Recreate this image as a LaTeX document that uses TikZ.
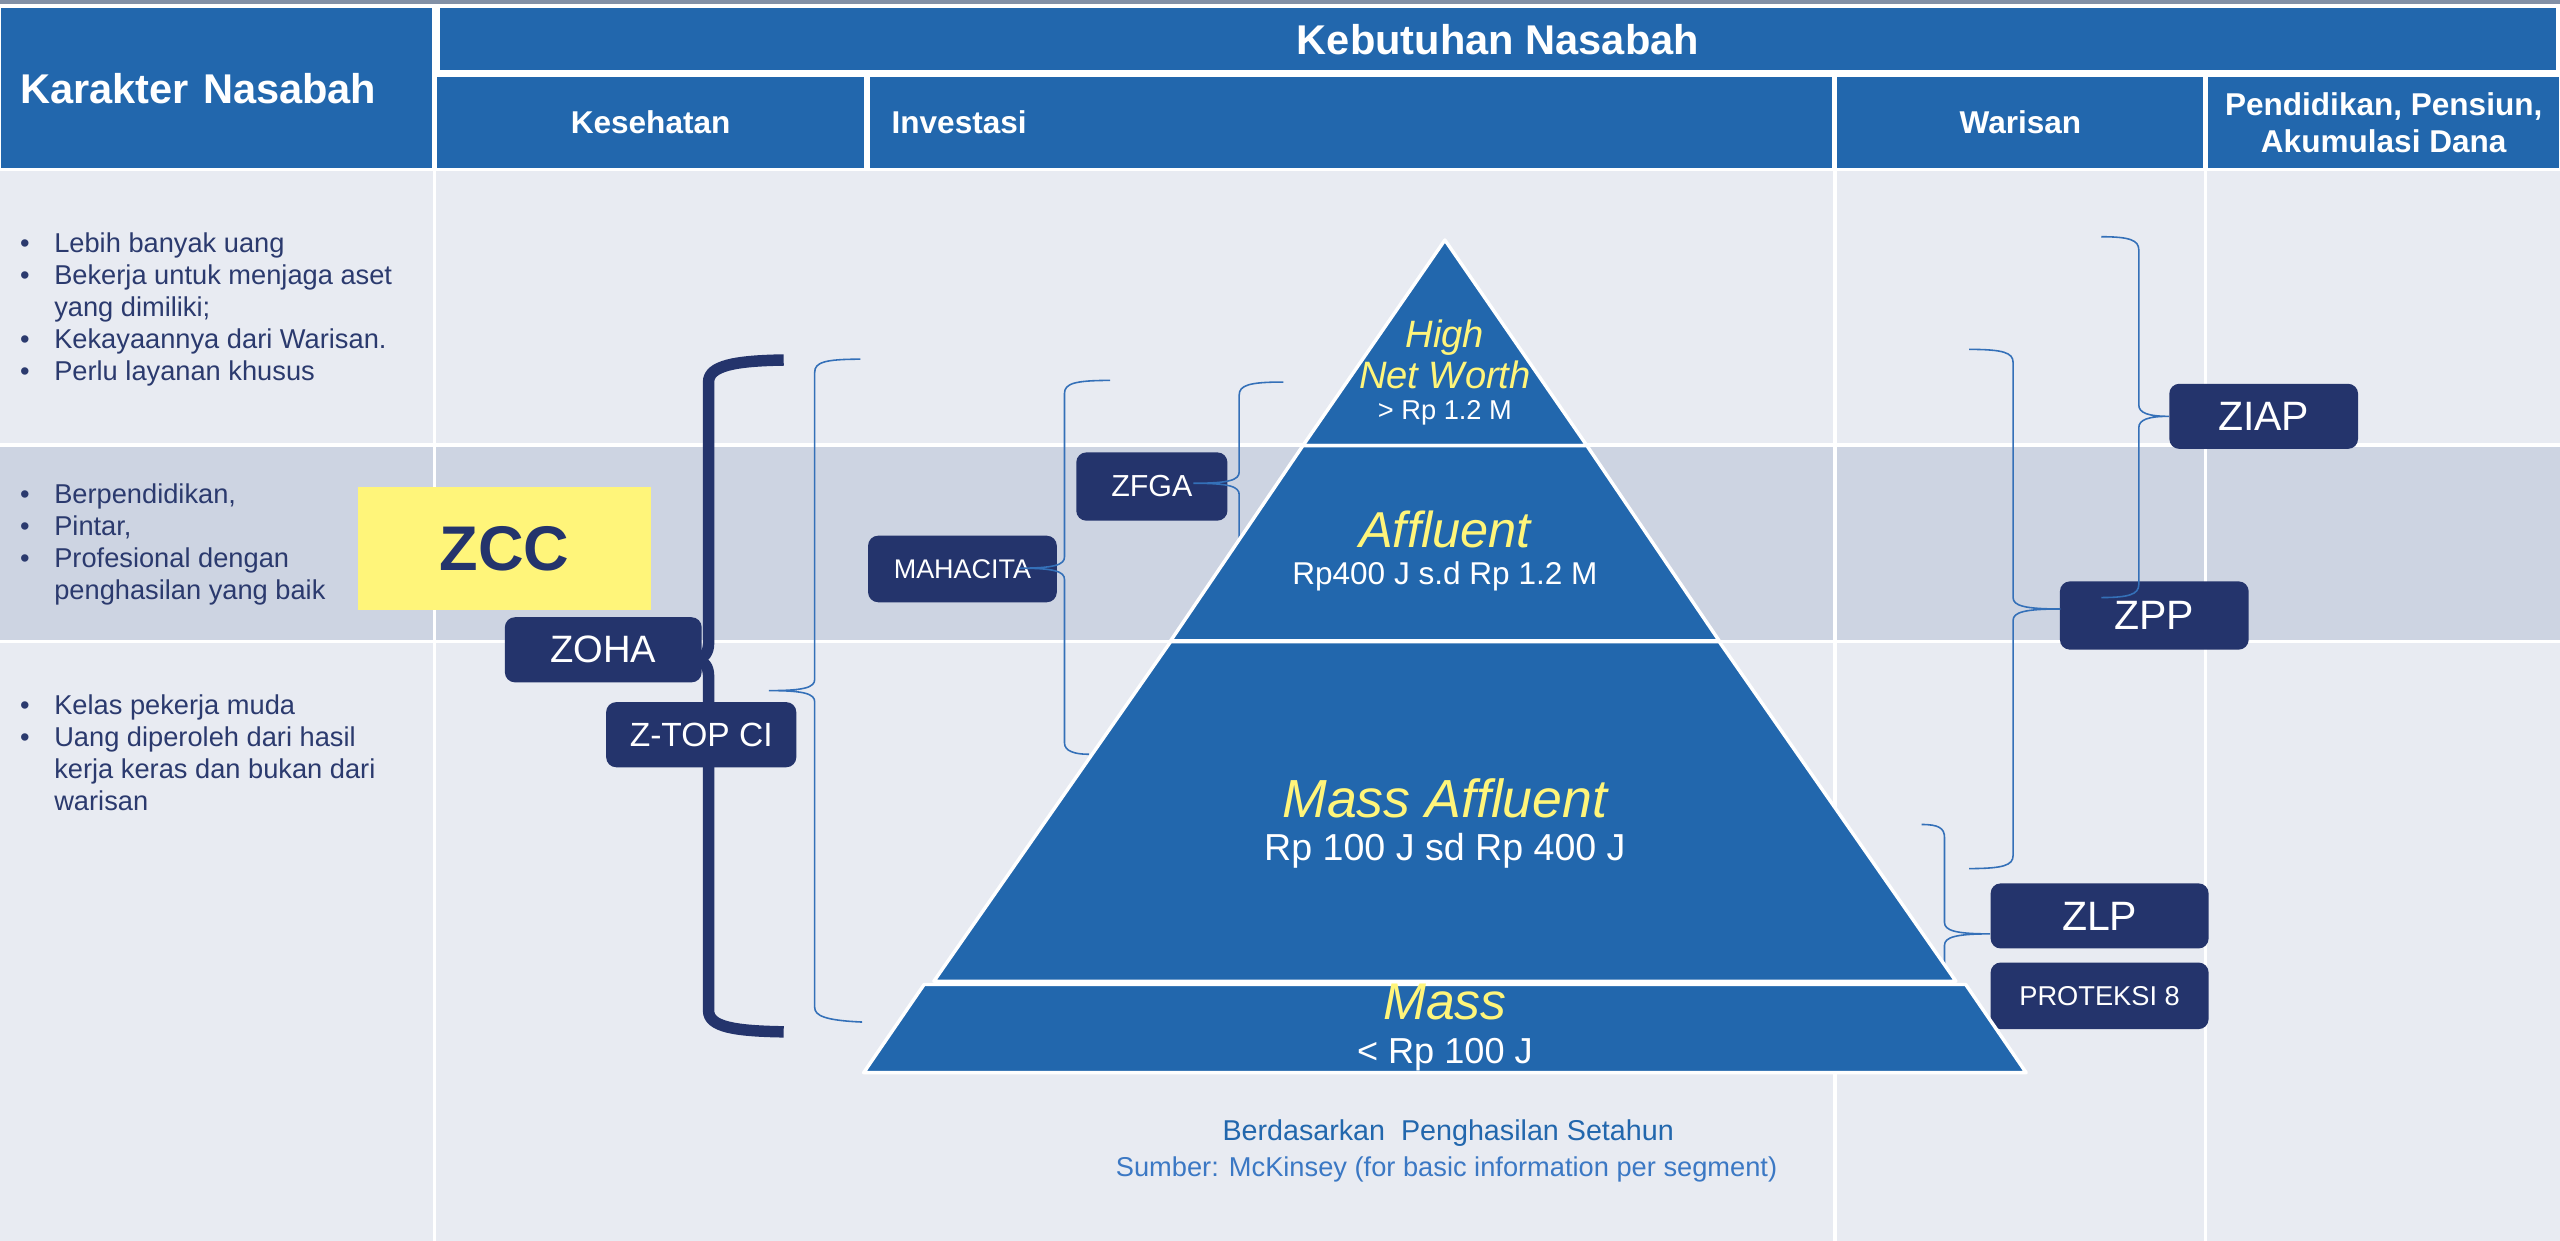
\documentclass[tikz,border=0pt]{standalone}
\usepackage{fontspec}
\setmainfont{Liberation Sans}
\usepackage{tikz}
\usetikzlibrary{positioning}

\definecolor{hdrblue}{HTML}{2267AD}
\definecolor{navy}{HTML}{24346C}
\definecolor{paleblue}{HTML}{E8EBF2}
\definecolor{midblue}{HTML}{CDD4E2}
\definecolor{hiyellow}{HTML}{FFF57A}
\definecolor{inktext}{HTML}{2B3A6E}
\definecolor{linkblue}{HTML}{3470B8}
\definecolor{noteblue}{HTML}{3B78C4}
\definecolor{topgray}{HTML}{8290A6}

\begin{document}
\begin{tikzpicture}[x=0.02cm, y=-0.02cm,
		hdr/.style={fill=hdrblue, text=white, inner sep=0pt, font=\fontsize{11}{13}\selectfont\bfseries},
		prod/.style={fill=navy, text=white, rounded corners=3.5pt, inner sep=0pt, minimum height=22.7pt, font=\fontsize{14.3}{16}\selectfont},
		ciri/.style={anchor=west, inner sep=0pt, text=inktext, font=\fontsize{9.5}{11.2}\selectfont},
		band/.style={fill=hdrblue, draw=white, line width=1.2pt, line join=round},
		seg/.style={text=hiyellow, inner sep=0pt, font=\fontsize{18}{20}\selectfont\itshape},
		rng/.style={text=white, inner sep=0pt, font=\fontsize{11}{13}\selectfont},
		thinbrace/.style={draw=linkblue, line width=0.55pt},
		bigbrace/.style={draw=navy, line width=4pt, line join=round}
	]
	\useasboundingbox (0,0) rectangle (1568,760);
	\fill[white] (0,0) rectangle (1568,760);
	\fill[topgray] (0,0) rectangle (1568,2.5);

	% header
	\node[hdr, minimum width=150.2pt, minimum height=55.6pt, text width=136.6pt, align=left,
		font=\fontsize{14.5}{17}\selectfont\bfseries] (karakter) at (132.5,54) {Karakter Nasabah};
	\node[hdr, minimum width=737.6pt, minimum height=21.5pt,
		font=\fontsize{14.5}{17}\selectfont\bfseries] (kebutuhan) at (917.5,24) {Kebutuhan Nasabah};
	\node[hdr, minimum width=149.1pt, minimum height=31.7pt] (kesehatan) at (398.5,75) {Kesehatan};
	\node[hdr, minimum width=335.1pt, minimum height=31.7pt, text width=320.3pt, align=left] (investasi) at (827.5,75) {Investasi};
	\node[hdr, minimum width=127.6pt, minimum height=31.7pt] (warisan) at (1237.5,75) {Warisan};
	\node[hdr, minimum width=122.5pt, minimum height=31.7pt, align=center] (pendidikan) at (1460,75) {Pendidikan, Pensiun,\\Akumulasi Dana};

	% body rows
	\fill[paleblue] (0,104.5) rectangle (1568,271.5);
	\fill[midblue] (0,273.5) rectangle (1568,392);
	\fill[paleblue] (0,394) rectangle (1568,760);
	\foreach \cx in {266,1124,1351}
	\draw[white, line width=1.2pt] (\cx,104) -- (\cx,760);

	\node[ciri] (ciri1) at (12,190) {\begin{tabular}{@{}p{11.9pt}@{}l@{}}
			\textbullet & Lebih banyak uang\\
			\textbullet & Bekerja untuk menjaga aset\\
			& yang dimiliki;\\
			\textbullet & Kekayaannya dari Warisan.\\
			\textbullet & Perlu layanan khusus
	\end{tabular}};
	\node[ciri] (ciri2) at (12,334) {\begin{tabular}{@{}p{11.9pt}@{}l@{}}
			\textbullet & Berpendidikan,\\
			\textbullet & Pintar,\\
			\textbullet & Profesional dengan\\
			& penghasilan yang baik
	\end{tabular}};
	\node[ciri] (ciri3) at (12,463) {\begin{tabular}{@{}p{11.9pt}@{}l@{}}
			\textbullet & Kelas pekerja muda\\
			\textbullet & Uang diperoleh dari hasil\\
			& kerja keras dan bukan dari\\
			& warisan
	\end{tabular}};

	\node[fill=hiyellow, text=navy, inner sep=0pt, minimum width=102pt, minimum height=43.1pt,
		font=\fontsize{22}{24}\selectfont\bfseries] (zcc) at (309,336) {ZCC};

	% thick brace behind the boxes
	\draw[bigbrace] (480,220.5) .. controls (450,221) and (434,224) .. (434,234) -- (434,394)
		.. controls (434,400) and (431,403) .. (427,404) .. controls (431,405) and (434,408) .. (434,414)
		-- (434,619) .. controls (434,629) and (450,631.5) .. (480,632);

	% products
	\node[prod, minimum width=68.6pt, font=\fontsize{13.3}{15}\selectfont] (zoha) at (369.5,398) {ZOHA};
	\node[prod, minimum width=66.3pt, font=\fontsize{11.7}{14}\selectfont] (ztop) at (429.5,450) {Z-TOP CI};
	\node[prod, minimum width=65.8pt, minimum height=23.2pt, font=\fontsize{9.4}{11}\selectfont] (mahacita) at (589.5,348.5) {MAHACITA};
	\node[prod, minimum width=52.7pt, minimum height=23.8pt, font=\fontsize{10.6}{12}\selectfont] (zfga) at (705.5,298) {ZFGA};
	\node[prod, minimum width=65.8pt] (ziap) at (1386.5,255) {ZIAP};
	\node[prod, minimum width=65.8pt, minimum height=23.8pt] (zpp) at (1319.5,377) {ZPP};
	\node[prod, minimum width=76pt] (zlp) at (1286,561) {ZLP};
	\node[prod, minimum width=76pt, minimum height=23.2pt, below=4.5pt of zlp, font=\fontsize{9.5}{11}\selectfont] (proteksi) {PROTEKSI 8};

	\coordinate (ztop-tip) at (471,423);
	\coordinate (mahacita-tip) at (624,348);
	\coordinate (zfga-tip) at (731,296);
	\coordinate (ziap-tip) at (ziap.west);
	\coordinate (zpp-tip) at (1262,373);
	\coordinate (zlp-tip) at (zlp.west |- 0,572);

	% thin braces
	\draw[thinbrace] (527,220) .. controls (505,220) and (499,222) .. (499,228) -- (499,416)
		.. controls (499,421) and (493,423) .. (ztop-tip) .. controls (493,423) and (499,425) .. (499,430)
		-- (499,617) .. controls (499,622) and (505,625) .. (528,626);
	\draw[thinbrace] (680,233) .. controls (658,233) and (652,235) .. (652,241) -- (652,341)
		.. controls (652,346) and (646,348) .. (mahacita-tip) .. controls (646,348) and (652,350) .. (652,355)
		-- (652,455) .. controls (652,460) and (658,462) .. (667,462);
	\draw[thinbrace] (786,234) .. controls (765,234) and (759,236) .. (759,242) -- (759,289)
		.. controls (759,294) and (753,296) .. (zfga-tip) .. controls (753,296) and (759,298) .. (759,303)
		-- (759,350) .. controls (759,355) and (765,358) .. (786,358);
	\draw[thinbrace] (1287,145) .. controls (1304,145) and (1310,147) .. (1310,153) -- (1310,248)
		.. controls (1310,253) and (1316,255) .. (ziap-tip) .. controls (1316,255) and (1310,257) .. (1310,262)
		-- (1310,358) .. controls (1310,364) and (1304,366) .. (1287,366);
	\draw[thinbrace] (1206,214) .. controls (1227,214) and (1233,216) .. (1233,222) -- (1233,366)
		.. controls (1233,371) and (1240,373) .. (zpp-tip) .. controls (1240,373) and (1233,375) .. (1233,380)
		-- (1233,524) .. controls (1233,530) and (1227,532) .. (1206,532);
	\draw[thinbrace] (1177,505) .. controls (1187,505) and (1191,507) .. (1191,513) -- (1191,565)
		.. controls (1191,570) and (1198,572) .. (zlp-tip) .. controls (1198,572) and (1191,574) .. (1191,579)
		-- (1191,630) .. controls (1191,635) and (1187,637) .. (1177,637);

	% pyramid
	\draw[band] (885,147) -- (972,273) -- (798,273) -- cycle;
	\draw[band] (798,273) -- (972,273) -- (1053,392.5) -- (717,392.5) -- cycle;
	\draw[band] (717,393) -- (1053,393) -- (1198,601) -- (572,601) -- cycle;
	\draw[band] (566,603) -- (1204,603) -- (1241,657) -- (529,657) -- cycle;

	\node[seg, align=center, font=\fontsize{13.3}{14.2}\selectfont\itshape] (hnw) at (885,217) {High\\Net Worth};
	\node[rng, font=\fontsize{9.5}{11}\selectfont] (hnw-rng) at (885,253) {> Rp 1.2 M};
	\node[seg, font=\fontsize{17.6}{20}\selectfont\itshape] (affluent) at (885,324) {Affluent};
	\node[rng] (affluent-rng) at (885,353) {Rp400 J s.d Rp 1.2 M};
	\node[seg, font=\fontsize{18.7}{21}\selectfont\itshape] (massaff) at (885,489) {Mass Affluent};
	\node[rng, font=\fontsize{13.1}{15}\selectfont] (massaff-rng) at (885,521) {Rp 100 J sd Rp 400 J};
	\node[seg] (mass) at (885,614) {Mass};
	\node[rng, font=\fontsize{12.6}{14}\selectfont] (mass-rng) at (885,646) {< Rp 100 J};

	% notes
	\node[text=hdrblue, font=\fontsize{10}{12}\selectfont] (basis) at (887,694) {Berdasarkan\ \ Penghasilan Setahun};
	\node[text=noteblue, font=\fontsize{9.5}{11}\selectfont] (sumber) at (886,716) {Sumber: McKinsey (for basic information per segment)};
\end{tikzpicture}
\end{document}
